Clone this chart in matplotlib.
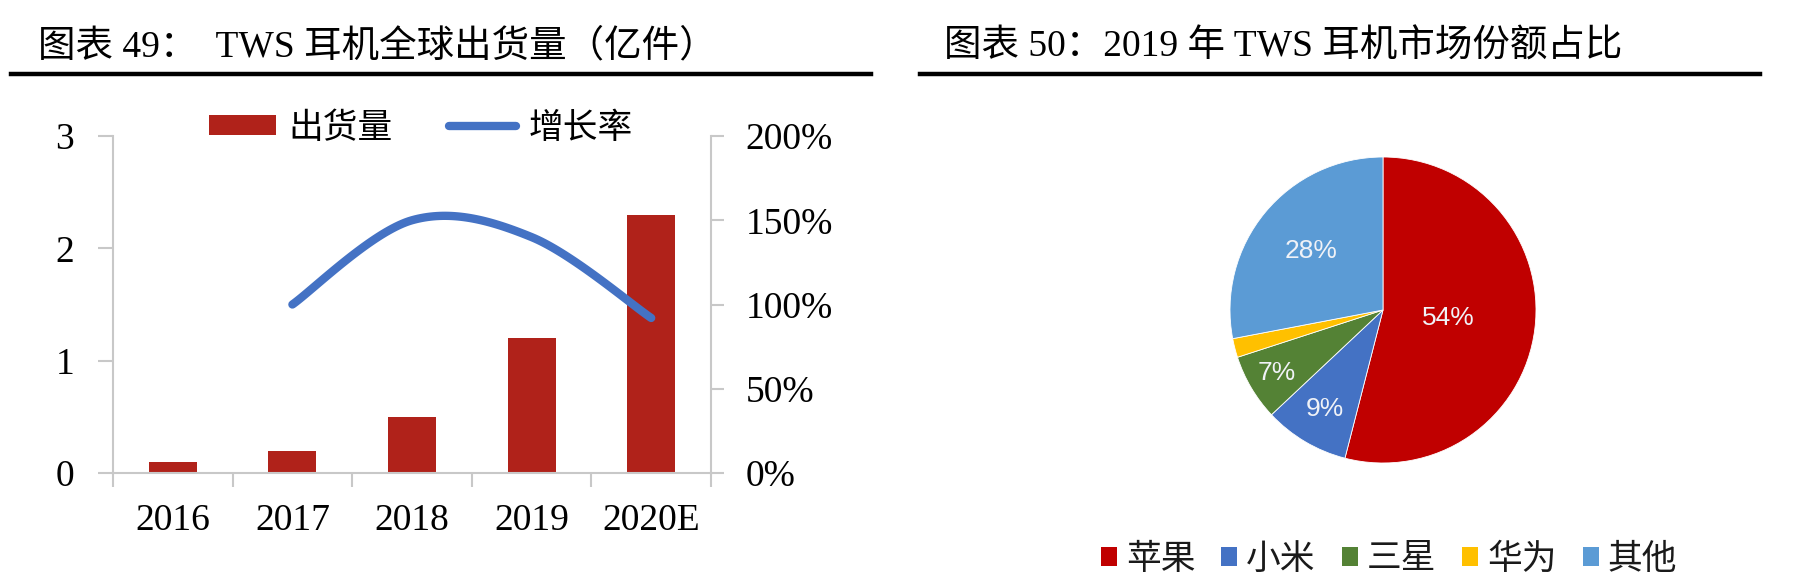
import matplotlib
matplotlib.use("Agg")
import matplotlib.pyplot as plt
from matplotlib.lines import Line2D
from matplotlib.patches import Patch
from matplotlib.ticker import FixedLocator, FuncFormatter
import numpy as np

# ---------------- data ----------------
years = ["2016", "2017", "2018", "2019", "2020E"]
shipments = [0.1, 0.2, 0.5, 1.2, 2.3]          # 亿件
growth = [None, 100, 150, 140, 92]             # %
brands = ["苹果", "小米", "三星", "华为", "其他"]
shares = [54, 9, 7, 2, 28]                     # %

title_left = "图表 49：  TWS 耳机全球出货量（亿件）"
title_right = "图表 50：2019 年 TWS 耳机市场份额占比"

# ---------------- style ----------------
SERIF = ["Liberation Serif", "Noto Sans CJK SC", "DejaVu Sans"]
CJK = ["Noto Sans CJK SC", "DejaVu Sans"]
plt.rcParams["font.family"] = SERIF

BAR_C = "#B0221A"
LINE_C = "#4472C4"
PIE_C = ["#C00000", "#4472C4", "#548235", "#FFC000", "#5B9BD5"]
AX_C = "#C8C8C8"

W, H = 1796, 578
fig = plt.figure(figsize=(W / 100, H / 100), dpi=100)

def fx(px):
    return px / W

def fy(py):
    return 1 - py / H

# titles and rules
fig.text(fx(38), fy(47), title_left, fontsize=27, family=SERIF, va="center", ha="left")
fig.text(fx(944), fy(47), title_right, fontsize=27, family=SERIF, va="center", ha="left")
fig.add_artist(Line2D([fx(11), fx(871)], [fy(74), fy(74)], color="black", lw=3.2,
                      transform=fig.transFigure))
fig.add_artist(Line2D([fx(920), fx(1760)], [fy(74), fy(74)], color="black", lw=3.2,
                      transform=fig.transFigure))

# ---------------- left chart ----------------
ax = fig.add_axes([fx(113), fy(473), fx(711) - fx(113), fy(136) - fy(473)])
x = np.arange(len(years))
bars = ax.bar(x, shipments, width=0.4, color=BAR_C, zorder=2, label="出货量")
ax.set_xlim(-0.5, len(years) - 0.5)
ax.set_ylim(0, 3)
ax.set_yticks([0, 1, 2, 3])
ax.set_xticks(x)
ax.set_xticklabels(years)
ax.xaxis.set_minor_locator(FixedLocator(np.arange(-0.5, len(years), 1.0)))
ax.tick_params(axis="x", which="major", length=0, pad=22, labelsize=27)
ax.tick_params(axis="x", which="minor", length=10, width=1.5, color=AX_C, direction="out")
ax.tick_params(axis="y", length=11, width=1.5, color=AX_C, direction="out", pad=17, labelsize=27)
for s in ["top", "right"]:
    ax.spines[s].set_visible(False)
for s in ["left", "bottom"]:
    ax.spines[s].set_color(AX_C)
    ax.spines[s].set_linewidth(1.5)

ax2 = ax.twinx()
ax2.set_ylim(0, 200)
ax2.set_yticks([0, 50, 100, 150, 200])
ax2.yaxis.set_major_formatter(FuncFormatter(lambda v, p: f"{int(v)}%"))
ax2.tick_params(axis="y", length=9, width=1.5, color=AX_C, direction="out", pad=16, labelsize=27)
for s in ["top", "left", "bottom"]:
    ax2.spines[s].set_visible(False)
ax2.spines["right"].set_color(AX_C)
ax2.spines["right"].set_linewidth(1.5)

# smoothed growth line (Catmull-Rom through the data points, like Excel's smoothed line)
gx = np.array([i for i, g in enumerate(growth) if g is not None], dtype=float)
gy = np.array([g for g in growth if g is not None], dtype=float)

def catmull_rom(px, py, n=40):
    P = np.column_stack([px, py])
    P = np.vstack([P[0], P, P[-1]])
    out = []
    for i in range(1, len(P) - 2):
        p0, p1, p2, p3 = P[i - 1], P[i], P[i + 1], P[i + 2]
        t = np.linspace(0, 1, n)[:, None]
        seg = 0.5 * (2 * p1 + (-p0 + p2) * t + (2 * p0 - 5 * p1 + 4 * p2 - p3) * t ** 2
                     + (-p0 + 3 * p1 - 3 * p2 + p3) * t ** 3)
        out.append(seg if i == 1 else seg[1:])
    out = np.vstack(out)
    return out[:, 0], out[:, 1]

sx, sy = catmull_rom(gx, gy)
ax2.plot(sx, sy, color=LINE_C, lw=6, solid_capstyle="round", zorder=3)

leg_handles = [Patch(facecolor=BAR_C, edgecolor="none"),
               Line2D([0], [0], color=LINE_C, lw=6, solid_capstyle="round")]
fig.legend(leg_handles, ["出货量", "增长率"], loc="center left",
           bbox_to_anchor=(fx(209), fy(128)), ncol=2, frameon=False,
           prop={"family": CJK, "size": 25}, handlelength=1.93, handleheight=0.52,
           handletextpad=0.37, columnspacing=1.6, borderaxespad=0, borderpad=0)

# ---------------- pie chart ----------------
cx, cy, r = 1383, 310, 153
pax = fig.add_axes([fx(cx - r), fy(cy + r), fx(2 * r), (2 * r) / H])
wedges, _ = pax.pie(shares, colors=PIE_C, startangle=90, counterclock=False, radius=1,
                    wedgeprops={"linewidth": 0.6, "edgecolor": "white"})
pax.set_xlim(-1, 1)
pax.set_ylim(-1, 1)
pax.set_aspect("equal")
pax.axis("off")

label_r = [0.43, 0.75, 0.81, None, 0.61]
for w, v, lr in zip(wedges, shares, label_r):
    if lr is None:
        continue
    ang = np.deg2rad((w.theta1 + w.theta2) / 2)
    pax.text(lr * np.cos(ang), lr * np.sin(ang), f"{v}%", ha="center", va="center",
             fontsize=19, color="#F0F2F7", family=["Liberation Sans", "DejaVu Sans"])

pie_handles = [Patch(facecolor=c, edgecolor="none") for c in PIE_C]
fig.legend(pie_handles, brands, loc="center", bbox_to_anchor=(fx(1389), fy(559)),
           ncol=5, frameon=False, prop={"family": CJK, "size": 25},
           handlelength=0.46, handleheight=0.46, handletextpad=0.26, columnspacing=0.75,
           borderaxespad=0, borderpad=0, labelcolor="#1A1A1A")

fig.savefig("out.png", dpi=100)
